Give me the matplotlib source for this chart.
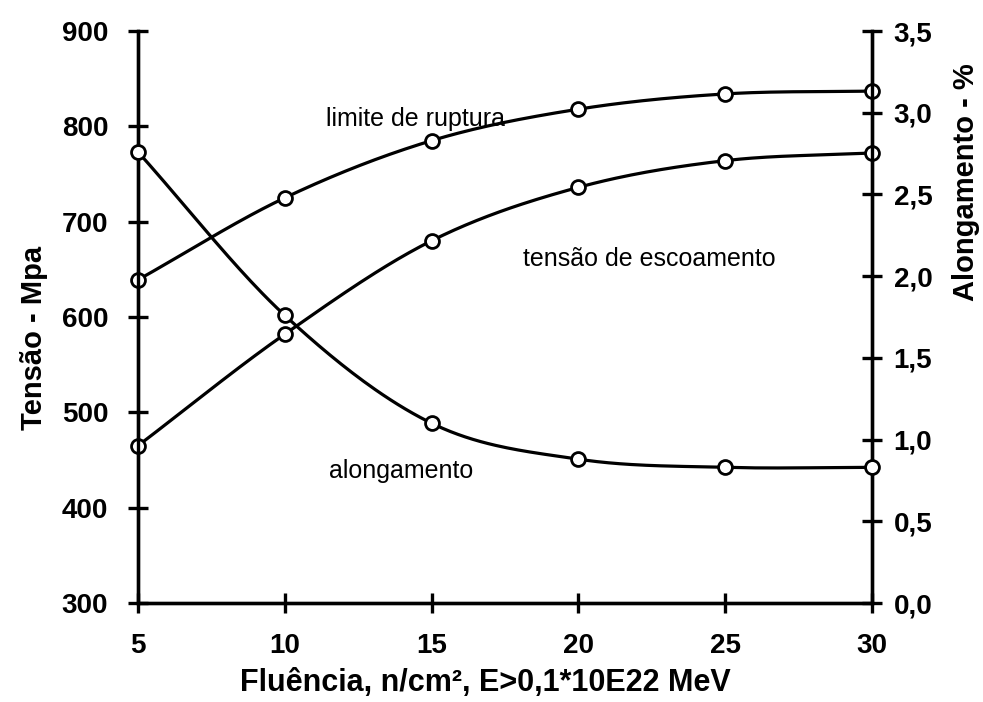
import numpy as np
import matplotlib
matplotlib.use("Agg")
import matplotlib.pyplot as plt

plt.rcParams['font.family'] = ['Liberation Sans', 'DejaVu Sans']

fluencia = [5, 10, 15, 20, 25, 30]
limite_ruptura = [639, 725, 785, 818, 834, 837]
tensao_escoamento = [465, 582, 680, 736, 764, 772]
alongamento = [2.76, 1.76, 1.10, 0.88, 0.83, 0.83]

left_ticks = [300, 400, 500, 600, 700, 800, 900]
right_ticks = [0.0, 0.5, 1.0, 1.5, 2.0, 2.5, 3.0, 3.5]
right_tick_labels = ['0,0', '0,5', '1,0', '1,5', '2,0', '2,5', '3,0', '3,5']
x_ticks = [5, 10, 15, 20, 25, 30]


def smooth(x, y, n=40):
    """Catmull-Rom curve through the given points (rendering only)."""
    x = np.asarray(x, float)
    y = np.asarray(y, float)
    px = np.concatenate([[2 * x[0] - x[1]], x, [2 * x[-1] - x[-2]]])
    py = np.concatenate([[2 * y[0] - y[1]], y, [2 * y[-1] - y[-2]]])
    xs, ys = [], []
    t = np.linspace(0, 1, n)
    for i in range(1, len(px) - 2):
        p0, p1, p2, p3 = px[i - 1:i + 3]
        q0, q1, q2, q3 = py[i - 1:i + 3]
        h00 = 2 * t**3 - 3 * t**2 + 1
        h10 = t**3 - 2 * t**2 + t
        h01 = -2 * t**3 + 3 * t**2
        h11 = t**3 - t**2
        m1x, m2x = (p2 - p0) / 2, (p3 - p1) / 2
        m1y, m2y = (q2 - q0) / 2, (q3 - q1) / 2
        xs.append(h00 * p1 + h10 * m1x + h01 * p2 + h11 * m2x)
        ys.append(h00 * q1 + h10 * m1y + h01 * q2 + h11 * m2y)
    return np.concatenate(xs), np.concatenate(ys)


fig = plt.figure(figsize=(9.83, 7.02), dpi=100)
ax = fig.add_axes([138 / 983, 1 - 603 / 702, (872 - 138) / 983, (603 - 31) / 702])
ax2 = ax.twinx()

lw = 2.3
mk = dict(marker='o', markersize=10, markerfacecolor='white',
          markeredgecolor='black', markeredgewidth=2.0, linestyle='none',
          clip_on=False, zorder=5)

for ys in (limite_ruptura, tensao_escoamento):
    sx, sy = smooth(fluencia, ys)
    ax.plot(sx, sy, color='black', lw=lw, clip_on=False, zorder=3)
    ax.plot(fluencia, ys, **mk)

sx, sy = smooth(fluencia, alongamento)
ax2.plot(sx, sy, color='black', lw=lw, clip_on=False, zorder=3)
ax2.plot(fluencia, alongamento, **mk)

ax.set_xlim(5, 30)
ax.set_ylim(300, 900)
ax2.set_ylim(0, 3.5)

for a in (ax, ax2):
    a.spines['top'].set_visible(False)
    for s in a.spines.values():
        s.set_linewidth(2.4)

ax.set_xticks(x_ticks)
ax.set_xticklabels([str(v) for v in x_ticks])
ax.set_yticks(left_ticks)
ax.set_yticklabels([str(v) for v in left_ticks])
ax2.set_yticks(right_ticks)
ax2.set_yticklabels(right_tick_labels)

ax.tick_params(axis='x', direction='inout', length=15, width=2.4, pad=14,
               labelsize=20)
ax.tick_params(axis='y', direction='inout', length=15, width=2.4, pad=14,
               labelsize=20)
ax2.tick_params(axis='y', direction='inout', length=15, width=2.4, pad=8,
                labelsize=20)
for lab in ax.get_xticklabels() + ax.get_yticklabels() + ax2.get_yticklabels():
    lab.set_fontweight('bold')

fig.text(485 / 983, 1 - 683 / 702, 'Fluência, n/cm², E>0,1*10E22 MeV',
         fontsize=22, fontweight='bold', ha='center', va='center')
fig.text(34 / 983, 1 - 338 / 702, 'Tensão - Mpa', fontsize=21,
         fontweight='bold', rotation=90, ha='center', va='center')
fig.text(966 / 983, 1 - 182 / 702, 'Alongamento - %', fontsize=21,
         fontweight='bold', rotation=90, ha='center', va='center')

ax.text(11.4, 808, 'limite de ruptura', fontsize=18, va='center', ha='left', zorder=4)
ax.text(18.1, 661, 'tensão de escoamento', fontsize=18, va='center', ha='left')
ax.text(11.5, 438, 'alongamento', fontsize=18, va='center', ha='left')

fig.savefig('out.png', dpi=100, facecolor='white')
